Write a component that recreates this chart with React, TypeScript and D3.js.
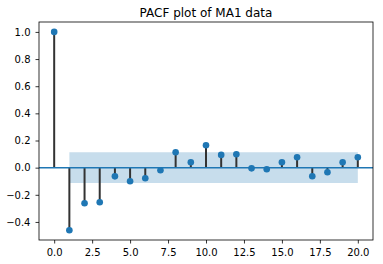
import * as d3 from "d3";
import { useEffect, useRef } from "react";

const WIDTH = 383;
const HEIGHT = 264;
const MARGIN = { top: 22, right: 10, bottom: 24, left: 39 };

const lags = [0, 1, 2, 3, 4, 5, 6, 7, 8, 9, 10, 11, 12, 13, 14, 15, 16, 17, 18, 19, 20];
const pacfValues = [
  1.0, -0.461, -0.262, -0.255, -0.064, -0.1, -0.078, -0.019, 0.113, 0.04, 0.165,
  0.094, 0.099, -0.005, -0.012, 0.04, 0.077, -0.063, -0.034, 0.04, 0.077,
];
const confBound = 0.113;
const xTicks = [0, 2.5, 5, 7.5, 10, 12.5, 15, 17.5, 20];
const yTicks = [-0.4, -0.2, 0, 0.2, 0.4, 0.6, 0.8, 1.0];

const BLUE = "#1f77b4";

const App = () => {
  const xAxisRef = useRef(null);
  const yAxisRef = useRef(null);
  const boundsWidth = WIDTH - MARGIN.left - MARGIN.right;
  const boundsHeight = HEIGHT - MARGIN.top - MARGIN.bottom;

  const xScale = d3.scaleLinear().domain([-1, 21]).range([0, boundsWidth]);
  const yScale = d3.scaleLinear().domain([-0.533, 1.073]).range([boundsHeight, 0]);

  useEffect(() => {
    const fmt = (d: number) => d3.format(".1f")(d).replace("-", "\u2212");
    const xg = d3.select(xAxisRef.current);
    xg.selectAll("*").remove();
    xg.call(d3.axisBottom(xScale).tickValues(xTicks).tickSize(3.5).tickPadding(5.5).tickFormat(fmt as any));
    const yg = d3.select(yAxisRef.current);
    yg.selectAll("*").remove();
    yg.call(d3.axisLeft(yScale).tickValues(yTicks).tickSize(3.5).tickPadding(5).tickFormat(fmt as any));
    [xg, yg].forEach((g) => {
      g.select(".domain").remove();
      g.attr("font-family", "DejaVu Sans").attr("font-size", 10);
      g.selectAll("line").attr("stroke", "#000").attr("stroke-width", 0.8);
      g.selectAll("text").attr("fill", "#000");
    });
  }, []);

  const band = d3
    .area<number>()
    .x((d) => xScale(d))
    .y0(yScale(-confBound))
    .y1(yScale(confBound));

  return (
    <svg width={WIDTH} height={HEIGHT} style={{ position: "absolute", left: 0, top: 0 }}>
      <rect width={WIDTH} height={HEIGHT} fill="#fff" />
      <text
        x={MARGIN.left + boundsWidth / 2}
        y={17}
        textAnchor="middle"
        fontFamily="DejaVu Sans"
        fontSize={12}
        fill="#000"
      >
        PACF plot of MA1 data
      </text>
      <g transform={`translate(${MARGIN.left},${MARGIN.top})`}>
        <path d={band([1, 20]) ?? ""} fill={BLUE} fillOpacity={0.25} />
        {lags.map((lag, i) => (
          <line
            key={`s${i}`}
            x1={xScale(lag)}
            x2={xScale(lag)}
            y1={yScale(0)}
            y2={yScale(pacfValues[i])}
            stroke="#333"
            strokeWidth={2}
          />
        ))}
        <line x1={0} x2={boundsWidth} y1={yScale(0)} y2={yScale(0)} stroke={BLUE} strokeWidth={1.5} />
        {lags.map((lag, i) => (
          <circle key={`m${i}`} cx={xScale(lag)} cy={yScale(pacfValues[i])} r={3.3} fill={BLUE} />
        ))}
        <rect width={boundsWidth} height={boundsHeight} fill="none" stroke="#000" strokeWidth={0.8} />
        <g ref={xAxisRef} transform={`translate(0,${boundsHeight})`} />
        <g ref={yAxisRef} />
      </g>
    </svg>
  );
};

export default App;
